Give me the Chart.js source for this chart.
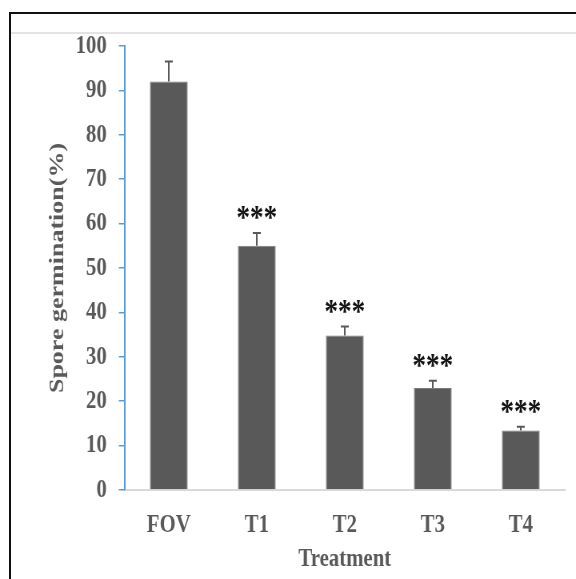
<!DOCTYPE html>
<html>
<head>
<meta charset="utf-8">
<title>Spore germination</title>
<script src="https://cdn.jsdelivr.net/npm/chart.js"></script>
<style>
    html, body { margin: 0; padding: 0; background: #fff; overflow: hidden; }
    body { width: 576px; height: 579px; position: relative; }
    /* the source figure is squeezed sideways, so draw wide and squash it */
    #stretch { position: absolute; left: 0; top: 0; width: 720px; height: 579px; transform: scaleX(0.8); transform-origin: 0 0; }
    #frame { position: absolute; left: 9px; top: 12px; right: -10px; bottom: -10px; border-left: 2px solid #111; border-top: 2px solid #111; }
    #rule { position: absolute; left: 11px; right: 0; top: 32px; height: 2px; background: #e3e3e3; }
</style>
</head>
<body>
<div id="stretch"><canvas id="chart"></canvas></div>
<div id="frame"></div>
<div id="rule"></div>
<script>
// Data
const categories = ['FOV', 'T1', 'T2', 'T3', 'T4'];
const germination = [92, 55, 34.8, 23, 13.4];
const errors = [4.5, 2.9, 2.0, 1.6, 0.85];
const marks = ['', '***', '***', '***', '***'];
const yMin = 0;
const yMax = 100;
const yStep = 10;

const textGrey = '#595959';
const serif = '"Liberation Serif", "Times New Roman", serif';

/**
 * Draws the upper error bar and significance stars above each bar.
 */
const errorBarPlugin = {
    id: 'errorBars',
    afterDatasetsDraw(chart) {
        const ctx = chart.ctx;
        const yScale = chart.scales.y;
        const meta = chart.getDatasetMeta(0);
        ctx.save();
        meta.data.forEach((bar, i) => {
            const top = yScale.getPixelForValue(germination[i]);
            const end = yScale.getPixelForValue(germination[i] + errors[i]);
            ctx.strokeStyle = textGrey;
            ctx.lineWidth = 2;
            ctx.beginPath();
            ctx.moveTo(bar.x, top);
            ctx.lineTo(bar.x, end);
            ctx.moveTo(bar.x - 5, end);
            ctx.lineTo(bar.x + 5, end);
            ctx.stroke();
            if (marks[i]) {
                ctx.fillStyle = '#111';
                ctx.font = 'bold 34px ' + serif;
                ctx.textAlign = 'center';
                ctx.textBaseline = 'alphabetic';
                ctx.fillText(marks[i], bar.x, end - 5);
            }
        });
        ctx.restore();
    }
};

const chartConfig = {
    type: 'bar',
    data: {
        labels: categories,
        datasets: [{
            label: 'Spore germination(%)',
            data: germination,
            backgroundColor: '#595959',
            borderColor: '#7a7a7a',
            borderWidth: 1,
            categoryPercentage: 1,
            barPercentage: 0.43
        }]
    },
    options: {
        responsive: true,
        maintainAspectRatio: false,
        animation: false,
        layout: { padding: { left: 57, top: 46, right: 14, bottom: 0 } },
        plugins: {
            legend: { display: false },
            tooltip: { enabled: false }
        },
        scales: {
            x: {
                grid: { display: false, drawTicks: false, tickLength: 0 },
                border: { display: true, color: '#d9d9d9', width: 2 },
                ticks: {
                    color: textGrey,
                    font: { family: serif, size: 26, weight: 'bold' },
                    padding: 20,
                    maxRotation: 0
                },
                title: {
                    display: true,
                    text: 'Treatment',
                    color: textGrey,
                    font: { family: serif, size: 26, weight: 'bold' },
                    padding: { top: 0, bottom: 4 }
                },
                afterFit(scale) { scale.height = 89; }
            },
            y: {
                min: yMin,
                max: yMax,
                grid: {
                    drawOnChartArea: false,
                    drawTicks: true,
                    tickLength: 7.5,
                    color: '#5b9bd5',
                    lineWidth: 1.5
                },
                border: { display: true, color: '#5b9bd5', width: 2 },
                ticks: {
                    stepSize: yStep,
                    color: textGrey,
                    font: { family: serif, size: 26, weight: 'bold' },
                    padding: 15
                },
                title: {
                    display: true,
                    text: 'Spore germination(%)',
                    color: textGrey,
                    font: { family: serif, size: 26, weight: 'bold' },
                    padding: 0
                },
                afterFit(scale) { scale.width = 99; }
            }
        }
    },
    plugins: [errorBarPlugin]
};

new Chart(document.getElementById('chart'), chartConfig);
</script>
</body>
</html>
